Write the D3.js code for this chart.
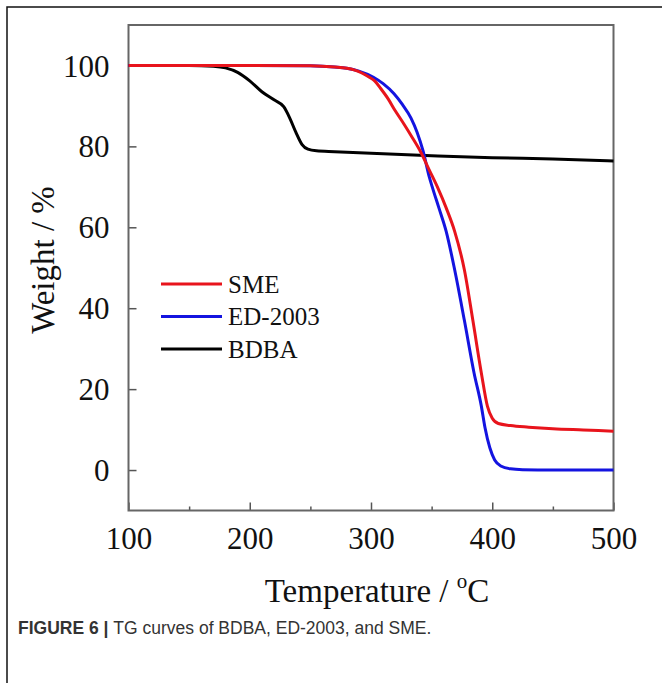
<!DOCTYPE html>
<html>
<head>
<meta charset="utf-8">
<script src="https://cdn.jsdelivr.net/npm/d3@7"></script>
<style>
  body { margin: 0; background: #fff; }
  svg { display: block; }
  .tick text { font-family: "Liberation Serif", "Times New Roman", serif; font-size: 31px; fill: #111; }
  .axis-label { font-family: "Liberation Serif", "Times New Roman", serif; font-size: 33px; fill: #111; }
  .legend text { font-family: "Liberation Serif", "Times New Roman", serif; font-size: 25px; fill: #111; }
  .caption { font-family: "Liberation Sans", Arial, sans-serif; font-size: 17.5px; fill: #333; }
</style>
</head>
<body>
<svg id="chart" width="662" height="683"></svg>
<script>
// temperature (°C) / weight (%)
const smeTemp = [100, 200, 250, 270, 280, 286, 292, 298, 303, 308, 314, 320, 327, 334, 341, 348, 355, 362, 369, 377, 384, 391, 396, 400, 405, 415, 430, 450, 475, 500];
const smeWeight = [100, 100, 99.9, 99.6, 99.3, 98.9, 98.2, 97.2, 96.2, 94.3, 91.8, 88.8, 85.6, 82.2, 78.6, 74.2, 69.8, 64.8, 59, 49.5, 37, 24, 15.8, 12.8, 11.5, 11, 10.6, 10.2, 9.9, 9.6];

const edTemp = [100, 200, 250, 270, 280, 290, 302, 310, 319, 326, 333, 338, 343, 348, 351, 356, 362, 369, 377, 385, 391, 394, 398, 402, 407, 415, 425, 450, 500];
const edWeight = [100, 100, 99.9, 99.6, 99.3, 98.6, 97.1, 95.5, 93, 90.3, 87, 83.5, 78.8, 72.5, 69.5, 64.8, 59, 49.5, 37, 24, 15.8, 10.5, 5.5, 2.5, 1, 0.3, 0.1, 0, 0];

const bdbaTemp = [100, 150, 170, 180, 190, 200, 210, 220, 228, 233, 238, 243, 248, 255, 270, 300, 350, 400, 450, 500];
const bdbaWeight = [100, 100, 99.8, 99.4, 98.3, 96.2, 93.5, 91.5, 89.8, 87, 83.5, 80.5, 79.3, 78.9, 78.7, 78.3, 77.7, 77.2, 76.9, 76.4];

const seriesNames = ["SME", "ED-2003", "BDBA"];
const seriesColors = ["#e8141c", "#1414e0", "#000000"];

const xMajorTicks = [100, 200, 300, 400, 500];
const xMinorTicks = [150, 250, 350, 450];
const yTicks = [0, 20, 40, 60, 80, 100];

const svg = d3.select("#chart");
const width = 662, height = 683;

const margin = { top: 25, right: 48.5, bottom: 172.5, left: 128.5 };
const innerWidth = width - margin.left - margin.right;
const innerHeight = height - margin.top - margin.bottom;

// frame of the cropped figure
svg.append("path")
    .attr("d", `M7,${height}V7H${width}`)
    .attr("fill", "none")
    .attr("stroke", "#111")
    .attr("stroke-width", 1.5);

const g = svg.append("g")
    .attr("transform", `translate(${margin.left},${margin.top})`);

const xScale = d3.scaleLinear().domain([100, 500]).range([0, innerWidth]);
const yScale = d3.scaleLinear().domain([-10, 110]).range([innerHeight, 0]);

const xAxis = d3.axisBottom(xScale)
    .tickValues(xMajorTicks)
    .tickSizeInner(-8)
    .tickSizeOuter(0)
    .tickPadding(16)
    .tickFormat(d3.format("d"));

const xAxisG = g.append("g")
    .attr("transform", `translate(0,${innerHeight})`)
    .call(xAxis);

const xMinorG = g.append("g")
    .attr("transform", `translate(0,${innerHeight})`)
    .call(d3.axisBottom(xScale).tickValues(xMinorTicks).tickSizeInner(-4).tickSizeOuter(0).tickFormat(""));
xMinorG.select(".domain").remove();

const yAxis = d3.axisLeft(yScale)
    .tickValues(yTicks)
    .tickSizeInner(-8)
    .tickSizeOuter(0)
    .tickPadding(19);

const yAxisG = g.append("g").call(yAxis);

[xAxisG, xMinorG, yAxisG].forEach(a => {
    a.selectAll("line").attr("stroke", "#555").attr("stroke-width", 1.5);
    a.selectAll(".domain").remove();
});
yAxisG.selectAll(".tick text").attr("dy", "0.34em");
xAxisG.selectAll(".tick text").attr("dy", "0.72em");

// plot box
g.append("rect")
    .attr("width", innerWidth)
    .attr("height", innerHeight)
    .attr("fill", "none")
    .attr("stroke", "#666")
    .attr("stroke-width", 2);

const line = d3.line()
    .x(d => xScale(d[0]))
    .y(d => yScale(d[1]))
    .curve(d3.curveMonotoneX);

const series = [
    d3.zip(smeTemp, smeWeight),
    d3.zip(edTemp, edWeight),
    d3.zip(bdbaTemp, bdbaWeight)
];

// draw black first, then blue, then red on top
[2, 1, 0].forEach(i => {
    g.append("path")
        .datum(series[i])
        .attr("fill", "none")
        .attr("stroke", seriesColors[i])
        .attr("stroke-width", 3)
        .attr("stroke-linejoin", "round")
        .attr("d", line);
});

// legend
const legend = svg.append("g").attr("class", "legend");
seriesNames.forEach((name, i) => {
    const y = 284 + i * 32.5;
    legend.append("line")
        .attr("x1", 161).attr("x2", 222)
        .attr("y1", y).attr("y2", y)
        .attr("stroke", seriesColors[i])
        .attr("stroke-width", 3);
    legend.append("text")
        .attr("x", 228)
        .attr("y", y)
        .attr("dy", "0.35em")
        .text(name);
});

// axis titles
svg.append("text")
    .attr("class", "axis-label")
    .attr("transform", `translate(54,260) rotate(-90)`)
    .attr("text-anchor", "middle")
    .text("Weight / %");

const xt = svg.append("text")
    .attr("class", "axis-label")
    .attr("x", margin.left + innerWidth / 2 + 6)
    .attr("y", 602)
    .attr("text-anchor", "middle");
xt.append("tspan").text("Temperature / ");
xt.append("tspan").attr("dy", -14).attr("font-size", 21).text("o");
xt.append("tspan").attr("dy", 14).text("C");

// caption
const cap = svg.append("text")
    .attr("class", "caption")
    .attr("x", 18)
    .attr("y", 634);
cap.append("tspan").attr("font-weight", "bold").text("FIGURE 6 | ");
cap.append("tspan").text("TG curves of BDBA, ED-2003, and SME.");
</script>
</body>
</html>
